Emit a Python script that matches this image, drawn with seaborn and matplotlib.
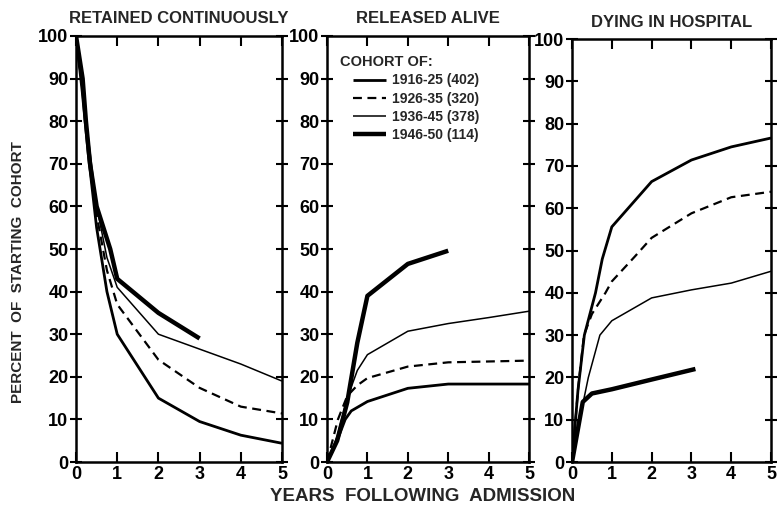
import matplotlib
matplotlib.use("Agg")
import matplotlib.pyplot as plt
import seaborn as sns
import pandas as pd

# cohort labels (size of cohort in brackets)
cohorts = ["1916-25 (402)", "1926-35 (320)", "1936-45 (378)", "1946-50 (114)"]
panel_titles = ["RETAINED CONTINUOUSLY", "RELEASED ALIVE", "DYING IN HOSPITAL"]

# Retained continuously
ret_x_1916 = [0, 0.15, 0.3, 0.5, 0.75, 1, 2, 3, 4, 5]
ret_y_1916 = [100, 87, 72, 55, 40, 30, 15, 9.5, 6.3, 4.4]
ret_x_1926 = [0, 0.15, 0.3, 0.5, 0.75, 1, 2, 3, 4, 5]
ret_y_1926 = [100, 88, 74, 58, 45, 37, 24, 17.4, 13, 11.4]
ret_x_1936 = [0, 0.15, 0.3, 0.5, 0.75, 1, 2, 3, 4, 5]
ret_y_1936 = [100, 89, 76, 60, 48, 41, 30, 26.5, 23, 19]
ret_x_1946 = [0, 0.16, 0.24, 0.34, 0.5, 0.83, 1, 2, 2.5, 3]
ret_y_1946 = [100, 90, 80, 70, 60, 50, 43, 35, 32, 29]

# Released alive
rel_x_1916 = [0, 0.25, 0.45, 0.6, 1, 2, 3, 4, 5]
rel_y_1916 = [0, 5, 10, 12, 14.2, 17.3, 18.3, 18.3, 18.3]
rel_x_1926 = [0, 0.27, 0.5, 0.75, 1, 2, 3, 4, 5]
rel_y_1926 = [0, 10, 15.5, 18, 19.7, 22.4, 23.4, 23.6, 23.8]
rel_x_1936 = [0, 0.25, 0.5, 0.75, 1, 2, 3, 4, 5]
rel_y_1936 = [0, 6, 15, 21.5, 25.2, 30.7, 32.5, 33.9, 35.4]
rel_x_1946 = [0, 0.25, 0.5, 0.75, 1, 2, 3]
rel_y_1946 = [0, 5, 14, 28, 39, 46.5, 49.6]

# Dying in hospital
die_x_1916 = [0, 0.15, 0.31, 0.59, 0.76, 1, 2, 3, 4, 5]
die_y_1916 = [0, 17, 30, 40, 48, 55.6, 66.3, 71.4, 74.5, 76.6]
die_x_1926 = [0, 0.15, 0.3, 0.5, 0.84, 1, 1.57, 2, 3, 4, 5]
die_y_1926 = [0, 17, 30, 35, 40, 42.7, 48.5, 53, 58.8, 62.6, 63.9]
die_x_1936 = [0, 0.19, 0.41, 0.7, 1, 2, 3, 4, 5]
die_y_1936 = [0, 10, 20, 30, 33.4, 38.8, 40.7, 42.3, 45.1]
die_x_1946 = [0, 0.27, 0.5, 1, 2, 3.1]
die_y_1946 = [0, 14.2, 16.2, 17.2, 19.5, 22]

panel_data = [
    [(ret_x_1916, ret_y_1916), (ret_x_1926, ret_y_1926), (ret_x_1936, ret_y_1936), (ret_x_1946, ret_y_1946)],
    [(rel_x_1916, rel_y_1916), (rel_x_1926, rel_y_1926), (rel_x_1936, rel_y_1936), (rel_x_1946, rel_y_1946)],
    [(die_x_1916, die_y_1916), (die_x_1926, die_y_1926), (die_x_1936, die_y_1936), (die_x_1946, die_y_1946)],
]

rows = []
for p, series in enumerate(panel_data):
    for c, (xs, ys) in enumerate(series):
        for x, y in zip(xs, ys):
            rows.append({"panel": p, "cohort": cohorts[c], "year": x, "pct": y})
df = pd.DataFrame(rows)

sns.set_theme(style="white")
plt.rcParams["font.family"] = ["Liberation Sans", "DejaVu Sans"]
plt.rcParams["font.weight"] = "bold"
narrow = ["Liberation Sans Narrow", "DejaVu Sans Condensed", "Liberation Sans"]

line_sizes = {cohorts[0]: 2.0, cohorts[1]: 1.6, cohorts[2]: 1.1, cohorts[3]: 3.2}
line_dashes = {cohorts[0]: "", cohorts[1]: (4, 2.5), cohorts[2]: "", cohorts[3]: ""}

fig = plt.figure(figsize=(7.79, 5.09), dpi=100)
axes_pos = [
    [0.0976, 0.0923, 0.2644, 0.837],
    [0.4198, 0.0923, 0.2593, 0.837],
    [0.7343, 0.0923, 0.2555, 0.831],
]

for p in range(3):
    ax = fig.add_axes(axes_pos[p])
    sub = df[df.panel == p]
    sns.lineplot(data=sub, x="year", y="pct", style="cohort", size="cohort",
                 style_order=cohorts, size_order=cohorts,
                 sizes=line_sizes, dashes=line_dashes, color="black",
                 estimator=None, sort=False, legend=(p == 1), ax=ax,
                 solid_capstyle="butt")
    ax.set_xlim(0, 5)
    ax.set_ylim(0, 100)
    ax.set_xticks(range(6))
    ax.set_yticks(range(0, 101, 10))
    ax.set_xlabel("")
    ax.set_ylabel("")
    for s in ax.spines.values():
        s.set_color("black")
        s.set_linewidth(1.8)
    ax.tick_params(axis="both", which="both", colors="black", labelsize=13,
                   width=1.5, length=7, direction="in", top=True, right=True,
                   left=True, bottom=True, pad=3)
    ax.tick_params(axis="y", which="both", direction="inout", length=9, pad=1)
    for lab in ax.get_xticklabels() + ax.get_yticklabels():
        lab.set_fontweight("bold")
    ax.set_title(panel_titles[p], fontsize=12, fontweight="bold", pad=9)

    if p == 1:
        handles, labels = ax.get_legend_handles_labels()
        hl = [(h, l) for h, l in zip(handles, labels) if l in cohorts]
        leg = ax.legend([h for h, _ in hl], [l for _, l in hl],
                        loc="upper left", bbox_to_anchor=(0.1, 0.925), frameon=False,
                        handlelength=2.4, handletextpad=0.4, labelspacing=0.3,
                        borderaxespad=0.0,
                        prop={"family": narrow, "weight": "bold", "size": 10})
        for h in leg.legend_handles:
            h.set_color("black")
        ax.text(0.065, 0.94, "COHORT OF:", transform=ax.transAxes, ha="left",
                va="center", fontsize=10.5, fontweight="bold", family=narrow)

fig.text(0.023, 0.466, "PERCENT  OF  STARTING  COHORT", rotation=90, fontsize=11,
         fontweight="bold", ha="center", va="center")
fig.text(0.543, 0.024, "YEARS  FOLLOWING  ADMISSION", fontsize=13.5,
         fontweight="bold", ha="center", va="center")

fig.savefig("out.png", dpi=100)
